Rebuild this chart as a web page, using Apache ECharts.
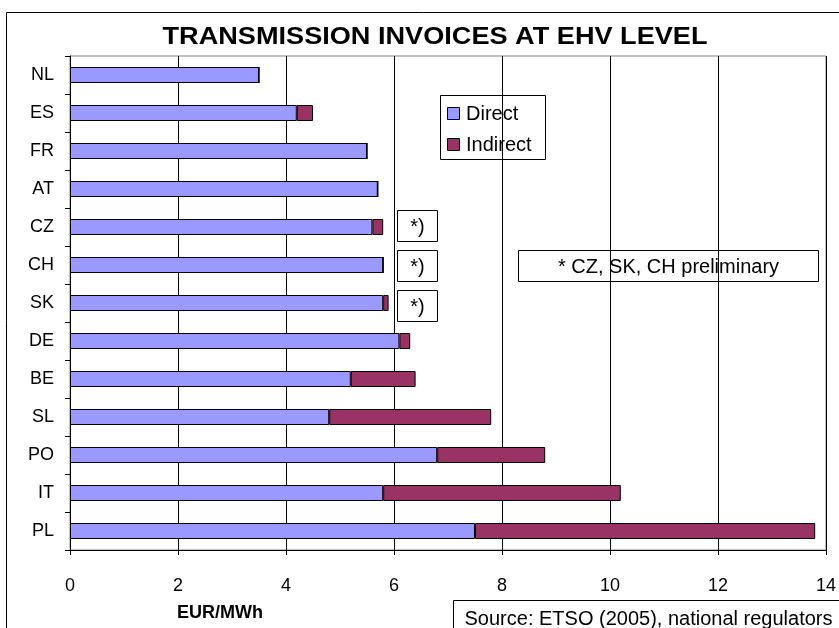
<!DOCTYPE html>
<html>
<head>
<meta charset="utf-8">
<script src="https://cdn.jsdelivr.net/npm/echarts@6/dist/echarts.min.js"></script>
<style>
  html, body { margin: 0; padding: 0; background: #fff; }
  #chart { width: 839px; height: 628px; }
</style>
</head>
<body>
<div id="chart"></div>
<script>
  // 国家
  var countries = ['NL', 'ES', 'FR', 'AT', 'CZ', 'CH', 'SK', 'DE', 'BE', 'SL', 'PO', 'IT', 'PL']
  // 直接部分
  var direct = [3.5, 4.2, 5.5, 5.7, 5.6, 5.8, 5.8, 6.1, 5.2, 4.8, 6.8, 5.8, 7.5]
  // 间接部分
  var indirect = [0, 0.3, 0, 0, 0.2, 0, 0.1, 0.2, 1.2, 3.0, 2.0, 4.4, 6.3]
  var xTicks = [0, 2, 4, 6, 8, 10, 12, 14]

  var font = 'Liberation Sans, Arial, sans-serif'
  var chart = echarts.init(document.getElementById('chart'))

  // 小文本框
  function box (x, y, w, h, text) {
    return {
      type: 'group',
      children: [
        { type: 'rect', shape: { x: x, y: y, width: w, height: h },
          style: { fill: '#fff', stroke: '#000', lineWidth: 1 } },
        { type: 'text', x: x + w / 2, y: y + h / 2 + 1,
          style: { text: text, font: '20px ' + font, fill: '#000', align: 'center', verticalAlign: 'middle' } }
      ]
    }
  }

  chart.setOption({
    animation: false,
    color: ['#9999FF', '#993366'],
    legend: { show: false },
    grid: { left: 70, top: 56, right: 8, bottom: 78, show: true, borderColor: '#808080', borderWidth: 1 },
    xAxis: {
      type: 'value', min: 0, max: 14, interval: 2,
      axisLine: { show: true, lineStyle: { color: '#000' } },
      axisTick: { show: true, length: 5, lineStyle: { color: '#000' } },
      axisLabel: { fontFamily: font, fontSize: 18, color: '#000', margin: 27,
        formatter: function (v) { return xTicks.indexOf(v) >= 0 ? String(v) : '' } },
      splitLine: { show: true, lineStyle: { color: '#000', width: 1 } }
    },
    yAxis: {
      type: 'category', data: countries, inverse: true,
      axisLine: { show: true, lineStyle: { color: '#000' } },
      axisTick: { show: true, length: 5, lineStyle: { color: '#000' } },
      axisLabel: { fontFamily: font, fontSize: 18, color: '#000', margin: 16 },
      splitLine: { show: false }
    },
    series: [
      { name: 'Direct', type: 'bar', stack: 'total', data: direct, barWidth: 16,
        itemStyle: { borderColor: '#000', borderWidth: 1 } },
      { name: 'Indirect', type: 'bar', stack: 'total', data: indirect, barWidth: 16,
        itemStyle: { borderColor: '#000', borderWidth: 1 } }
    ],
    graphic: [
      // 外框
      { type: 'rect', shape: { x: 6.5, y: 12.5, width: 840, height: 630 },
        style: { fill: null, stroke: '#000', lineWidth: 1 }, z: -1 },
      // 标题
      { type: 'text', x: 435, y: 37, scaleX: 1.13, originX: 0, originY: 0,
        style: { text: 'TRANSMISSION INVOICES AT EHV LEVEL', font: 'bold 24px ' + font,
          fill: '#000', align: 'center', verticalAlign: 'middle' } },
      // 图例
      { type: 'group', children: [
        { type: 'rect', shape: { x: 440.5, y: 95.5, width: 105, height: 64 },
          style: { fill: '#fff', stroke: '#000', lineWidth: 1 } },
        { type: 'rect', shape: { x: 447.5, y: 107.5, width: 12, height: 12 },
          style: { fill: '#9999FF', stroke: '#000', lineWidth: 1 } },
        { type: 'text', x: 466, y: 114,
          style: { text: 'Direct', font: '20px ' + font, fill: '#000', verticalAlign: 'middle' } },
        { type: 'rect', shape: { x: 447.5, y: 138.5, width: 12, height: 12 },
          style: { fill: '#993366', stroke: '#000', lineWidth: 1 } },
        { type: 'text', x: 466, y: 145,
          style: { text: 'Indirect', font: '20px ' + font, fill: '#000', verticalAlign: 'middle' } }
      ] },
      box(397.5, 210.5, 40, 31, '*)'),
      box(397.5, 250.5, 40, 31, '*)'),
      box(397.5, 290.5, 40, 31, '*)'),
      box(518.5, 250.5, 300, 31, '* CZ, SK, CH preliminary'),
      box(453.5, 600.5, 390, 35, 'Source: ETSO (2005), national regulators'),
      { type: 'text', x: 220, y: 613,
        style: { text: 'EUR/MWh', font: 'bold 18px ' + font, fill: '#000', align: 'center', verticalAlign: 'middle' } }
    ]
  })
</script>
</body>
</html>
